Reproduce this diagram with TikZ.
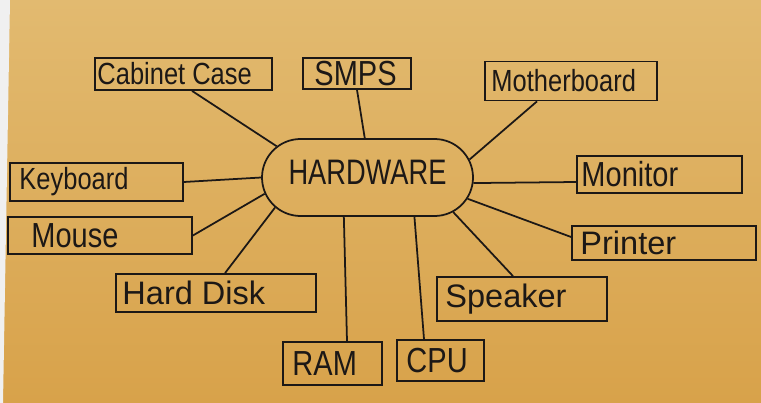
\documentclass[tikz,border=0pt]{standalone}
\usepackage{fontspec}
\setmainfont{Liberation Sans}
\usetikzlibrary{shapes.misc}
\definecolor{paper}{RGB}{216,162,74}
\definecolor{paperlight}{RGB}{226,186,112}
\definecolor{ink}{RGB}{28,24,22}
\newcommand{\penned}[1]{\scalebox{1}[1.2]{#1}}

\begin{document}
\begin{tikzpicture}[
	box/.style={draw=ink, line width=1pt, rectangle, inner sep=0pt},
	tag/.style={anchor=west, inner sep=0pt, text=ink},
	link/.style={draw=ink, line width=1pt},
	txtsmall/.style={font=\fontsize{14.5}{16}\selectfont},
	txtmid/.style={font=\fontsize{16.5}{18}\selectfont},
	txtbig/.style={font=\fontsize{18.5}{20}\selectfont}
	]
		% paper
		\fill[top color=paperlight, bottom color=paper] (0,0) rectangle (15.22,-8.06);
		\fill[gray!12] (0,0) -- (0.2,0) -- (0.06,-8.06) -- (0,-8.06) -- cycle;
		\useasboundingbox (0,0) rectangle (15.22,-8.06);

		% centre
		\node[draw=ink, line width=1pt, rounded rectangle, minimum width=4.22cm, minimum height=1.54cm, inner sep=0pt,
			label={[text=ink, font=\fontsize{15.5}{17}\selectfont, yshift=0.1cm]center:\scalebox{1}[1.3]{HARDWARE}}] (hub) at (7.35,-3.55) {};

		% parts
		\node[box, minimum width=3.54cm, minimum height=0.64cm, label={[tag, txtsmall, xshift=0.06cm]west:\penned{Cabinet Case}}] (cab) at (3.67,-1.48) {};
		\node[box, minimum width=2.16cm, minimum height=0.62cm, label={[tag, txtmid, xshift=0.24cm]west:\penned{SMPS}}] (smps) at (7.14,-1.47) {};
		\node[box, minimum width=3.44cm, minimum height=0.78cm, label={[tag, txtsmall, xshift=0.14cm]west:\penned{Motherboard}}] (mb) at (11.42,-1.62) {};
		\node[box, minimum width=3.46cm, minimum height=0.76cm, label={[tag, txtsmall, xshift=0.2cm]west:\penned{Keyboard}}] (kb) at (1.93,-3.64) {};
		\node[box, minimum width=3.68cm, minimum height=0.74cm, label={[tag, txtmid, xshift=0.48cm]west:\penned{Mouse}}] (mouse) at (2.00,-4.71) {};
		\node[box, minimum width=4.00cm, minimum height=0.76cm, label={[tag, txtbig, xshift=0.14cm]west:Hard Disk}] (hd) at (4.32,-5.86) {};
		\node[box, minimum width=1.98cm, minimum height=0.86cm, label={[tag, txtmid, xshift=0.2cm]west:\penned{RAM}}] (ram) at (6.65,-7.27) {};
		\node[box, minimum width=1.74cm, minimum height=0.82cm, label={[tag, txtmid, xshift=0.2cm]west:\penned{CPU}}] (cpu) at (8.81,-7.21) {};
		\node[box, minimum width=3.40cm, minimum height=0.88cm, label={[tag, txtbig, xshift=0.18cm]west:Speaker}] (sp) at (10.44,-5.98) {};
		\node[box, minimum width=3.68cm, minimum height=0.68cm, label={[tag, txtbig, xshift=0.18cm]west:Printer}] (pr) at (13.28,-4.86) {};
		\node[box, minimum width=3.30cm, minimum height=0.74cm, label={[tag, txtmid, xshift=0.1cm]west:\penned{Monitor}}] (mon) at (13.19,-3.49) {};

		% links
		\draw[link] ([xshift=0.17cm]cab.south) -- (hub.161);
		\draw[link] (smps.south) -- (hub.94);
		\draw[link] ([xshift=-0.68cm]mb.south) -- (hub.10);
		\draw[link] (kb.east) -- (hub.180);
		\draw[link] ([yshift=-0.15cm]mon.west) -- (hub.357);
		\draw[link] (mouse.east) -- (hub.189);
		\draw[link] ([yshift=0.12cm]pr.west) -- (hub.348);
		\draw[link] ([xshift=0.18cm]hd.north) -- (hub.198);
		\draw[link] ([xshift=-0.18cm]sp.north) -- (hub.338);
		\draw[link] ([xshift=0.29cm]ram.north) -- (hub.239);
		\draw[link] ([xshift=-0.33cm]cpu.north) -- (hub.320);
\end{tikzpicture}
\end{document}
